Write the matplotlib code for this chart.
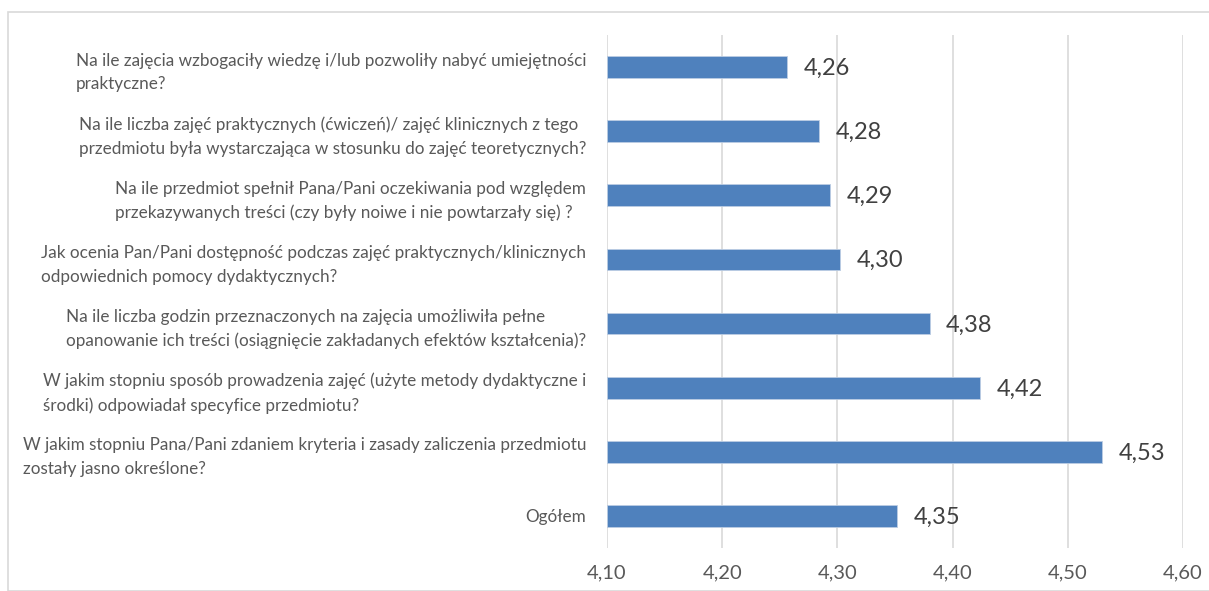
import matplotlib.pyplot as plt
from matplotlib.patches import Rectangle

# Data (top to bottom)
questions = [
    "Na ile zajęcia wzbogaciły wiedzę i/lub pozwoliły nabyć umiejętności\npraktyczne?",
    "Na ile liczba zajęć praktycznych (ćwiczeń)/ zajęć klinicznych z tego\nprzedmiotu była wystarczająca w stosunku do zajęć teoretycznych?",
    "Na ile przedmiot spełnił Pana/Pani oczekiwania pod względem\nprzekazywanych treści (czy były noiwe i nie powtarzały się) ?",
    "Jak ocenia Pan/Pani dostępność podczas zajęć praktycznych/klinicznych\nodpowiednich pomocy dydaktycznych?",
    "Na ile liczba godzin przeznaczonych na zajęcia umożliwiła pełne\nopanowanie ich treści (osiągnięcie zakładanych efektów kształcenia)?",
    "W jakim stopniu sposób prowadzenia zajęć (użyte metody dydaktyczne i\nśrodki) odpowiadał specyfice przedmiotu?",
    "W jakim stopniu Pana/Pani zdaniem kryteria i zasady zaliczenia przedmiotu\nzostały jasno określone?",
    "Ogółem",
]
scores = [4.256, 4.284, 4.294, 4.302, 4.380, 4.424, 4.530, 4.352]
x_ticks = [4.10, 4.20, 4.30, 4.40, 4.50, 4.60]

BAR_COLOR = "#4F81BD"
GRID_COLOR = "#D9D9D9"
TEXT_COLOR = "#595959"

plt.rcParams['font.family'] = ['Lato', 'DejaVu Sans']

fig = plt.figure(figsize=(12.09, 5.91), dpi=100)
ax = fig.add_axes([607 / 1209, 1 - 548 / 591, 576 / 1209, 513 / 591])

# chart border
fig.patches.append(Rectangle((8 / 1209, 0), 1.1, 1 - 12 / 591, transform=fig.transFigure,
                             fill=False, edgecolor=GRID_COLOR, linewidth=1.2))

ypos = list(range(len(questions)))
ax.barh(ypos, [s - x_ticks[0] for s in scores], left=x_ticks[0], height=0.34,
        color=BAR_COLOR, edgecolor="#BCCDE3", linewidth=0.6, zorder=3)

for y, s in zip(ypos, scores):
    ax.annotate(f"{s:.2f}".replace(".", ","), (s, y), xytext=(12, -1),
                textcoords="offset points", va="center", ha="left",
                fontsize=17, color="#404040")

ax.set_xlim(x_ticks[0], x_ticks[-1])
ax.set_ylim(len(questions) - 0.5, -0.5)
ax.set_xticks(x_ticks)
ax.set_xticklabels([f"{t:.2f}".replace(".", ",") for t in x_ticks], fontsize=14.5, color=TEXT_COLOR)
ax.set_yticks(ypos)
ax.set_yticklabels(questions, fontsize=12.3, color=TEXT_COLOR)
for lbl in ax.get_yticklabels():
    lbl.set_multialignment("left")
    lbl.set_linespacing(1.6)

ax.tick_params(axis="both", length=0)
ax.tick_params(axis="y", pad=15)
ax.tick_params(axis="x", pad=12)
ax.grid(axis="x", color=GRID_COLOR, linewidth=1.2, zorder=0)
for sp in ax.spines.values():
    sp.set_visible(False)

fig.savefig("out.png", dpi=100)
